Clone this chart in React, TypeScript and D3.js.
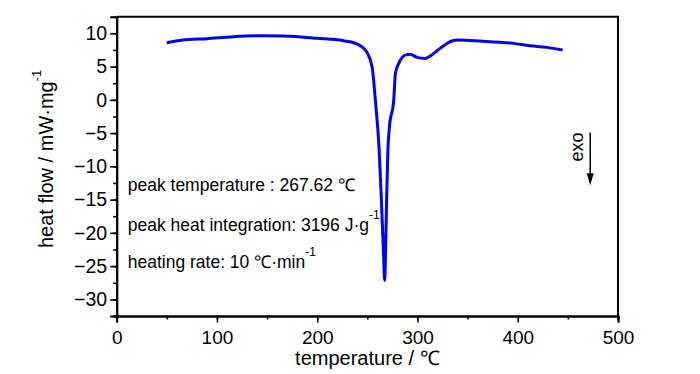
import React, { useEffect, useRef } from 'react';
import * as d3 from 'd3';

// DSC trace (temperature in ℃, heat flow in mW·mg-1)
const temperature = [
  50, 66, 90, 116, 143, 166, 200, 226, 240, 248, 250, 254.7, 258, 261.8, 264, 266, 267.3,
  268.2, 269.2, 270.5, 272, 276.3, 278, 281.3, 283, 287.7, 292.7, 299.4, 307.7, 312.7,
  322.6, 334.3, 340.6, 362.3, 395.5, 412.2, 428.8, 444.8,
];
const heatFlow = [
  8.58, 8.99, 9.2, 9.49, 9.64, 9.59, 9.25, 8.89, 8.39, 7.48, 7.03, 4.97, -0.06, -7.57, -15.1, -22.6, -27.15,
  -22.6, -15.1, -7.57, -4.1, -0.06, 3.98, 5.48, 5.98, 6.73, 6.84, 6.39, 6.23, 6.58,
  7.74, 8.84, 8.99, 8.84, 8.49, 8.13, 7.89, 7.48,
];

const xDomain = [0, 500];
const yDomain = [-32.5, 12.5];
const xTickValues = [0, 100, 200, 300, 400, 500];
const yTickValues = [-30, -25, -20, -15, -10, -5, 0, 5, 10];

const notes = ['peak temperature : 267.62 ℃', 'peak heat integration: 3196 J·g', 'heating rate: 10 ℃·min'];
const noteSup = ['', '-1', '-1'];

const FONT = '"Liberation Sans", Arial, sans-serif';

export default function App() {
  const svgRef = useRef<SVGSVGElement>(null);

  useEffect(() => {
    if (!svgRef.current) return;
    const svg = d3.select(svgRef.current);
    svg.selectAll('*').remove();

    const margin = { top: 16.7, left: 116.7, right: 82, bottom: 58 };
    const width = 700 - margin.left - margin.right;
    const height = 374 - margin.top - margin.bottom;

    const x = d3.scaleLinear().domain(xDomain).range([0, width]);
    const y = d3.scaleLinear().domain(yDomain).range([height, 0]);

    const g = svg.append('g').attr('transform', `translate(${margin.left},${margin.top})`);

    // minor ticks first, then major with labels
    const minorX = d3.axisBottom(x).tickValues(d3.range(0, 501, 50)).tickSize(3.5).tickFormat(() => '');
    const minorY = d3.axisLeft(y).tickValues(d3.range(-32.5, 12.6, 2.5)).tickSize(3.5).tickFormat(() => '');
    g.append('g').attr('transform', `translate(0,${height})`).call(minorX);
    g.append('g').call(minorY);

    const xAxis = g.append('g').attr('transform', `translate(0,${height})`)
      .call(d3.axisBottom(x).tickValues(xTickValues).tickSize(6.5).tickPadding(8));
    const yAxis = g.append('g')
      .call(d3.axisLeft(y).tickValues(yTickValues).tickSize(6.5).tickPadding(3));

    g.selectAll('.domain').attr('stroke', '#000').attr('stroke-width', 2);
    g.selectAll('.tick line').attr('stroke', '#000').attr('stroke-width', 1.6);
    xAxis.selectAll('text').attr('font-family', FONT).attr('font-size', 19).attr('fill', '#000');
    yAxis.selectAll('text').attr('font-family', FONT).attr('font-size', 19.5).attr('fill', '#000');

    // frame top and right
    g.append('path')
      .attr('d', `M0,0H${width}V${height}`)
      .attr('fill', 'none').attr('stroke', '#000').attr('stroke-width', 2);

    // curve
    const pts = temperature.map((t, i) => [t, heatFlow[i]] as [number, number]);
    const line = d3.line<[number, number]>()
      .x(d => x(d[0]))
      .y(d => y(d[1]))
      .curve(d3.curveMonotoneX);
    g.append('path')
      .datum(pts)
      .attr('d', line)
      .attr('fill', 'none')
      .attr('stroke', '#0000ff')
      .attr('stroke-width', 3)
      .attr('stroke-linejoin', 'round');

    // annotations
    const noteY = [-13.75, -19.7, -25.35];
    notes.forEach((n, i) => {
      const t = g.append('text')
        .attr('x', x(11)).attr('y', y(noteY[i]))
        .attr('font-family', FONT).attr('font-size', 17.5).attr('fill', '#000');
      t.append('tspan').text(n);
      if (noteSup[i]) t.append('tspan').attr('dy', -12).attr('font-size', 12).text(noteSup[i]);
    });

    // exo arrow
    const ex = x(465.3), ey = y(-7.1);
    g.append('text')
      .attr('transform', `translate(${ex},${ey}) rotate(-90)`)
      .attr('text-anchor', 'middle')
      .attr('font-family', FONT).attr('font-size', 18).attr('fill', '#000')
      .text('exo');
    const ax = x(472.3), ay0 = y(-4.9), ay1 = y(-12.85);
    g.append('line')
      .attr('x1', ax).attr('x2', ax).attr('y1', ay0).attr('y2', ay1 - 10)
      .attr('stroke', '#000').attr('stroke-width', 1.5);
    g.append('path')
      .attr('d', `M${ax - 3.5},${ay1 - 12}L${ax + 3.5},${ay1 - 12}L${ax},${ay1}Z`)
      .attr('fill', '#000');

    // axis titles
    svg.append('text')
      .attr('x', margin.left + x(250)).attr('y', 365)
      .attr('text-anchor', 'middle')
      .attr('font-family', FONT).attr('font-size', 20).attr('fill', '#000')
      .text('temperature / ℃');

    const yl = svg.append('text')
      .attr('transform', 'translate(53,248) rotate(-90)')
      .attr('font-family', FONT).attr('font-size', 20).attr('fill', '#000');
    yl.append('tspan').text('heat flow / mW·mg');
    yl.append('tspan').attr('dy', -12).attr('font-size', 13).text('-1');
  }, []);

  return (
    <svg
      ref={svgRef}
      width={700}
      height={374}
      style={{ position: 'absolute', left: 0, top: 0, background: '#fff' }}
    />
  );
}
